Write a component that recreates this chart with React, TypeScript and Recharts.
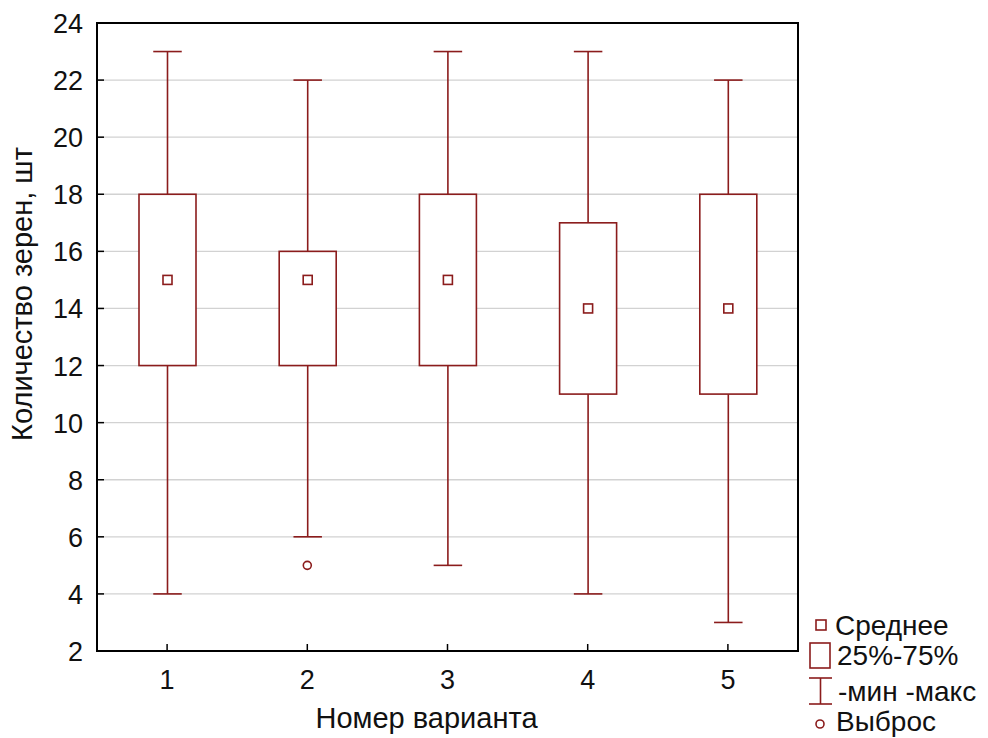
import React from "react";
import {
  ComposedChart,
  Bar,
  Scatter,
  XAxis,
  YAxis,
  CartesianGrid,
  ReferenceArea,
} from "recharts";

const variants = ["1", "2", "3", "4", "5"];
const minValues = [4, 6, 5, 4, 3];
const q1Values = [12, 12, 12, 11, 11];
const q3Values = [18, 16, 18, 17, 18];
const maxValues = [23, 22, 23, 23, 22];
const meanValues = [15, 15, 15, 14, 14];
const outliers: (number | null)[] = [null, 5, null, null, null];
const yTicks = [2, 4, 6, 8, 10, 12, 14, 16, 18, 20, 22, 24];

const RED = "#8b1c1c";
const FONT = "'Liberation Sans', Arial, sans-serif";

const data = variants.map((name, i) => ({
  name,
  range: [minValues[i], maxValues[i]],
  min: minValues[i],
  q1: q1Values[i],
  q3: q3Values[i],
  max: maxValues[i],
  mean: meanValues[i],
  outlier: outliers[i],
}));

// draws whisker + box + mean from the [min, max] bar the library positioned
function BoxShape(props: any) {
  const { x, y, width, height, payload } = props;
  const top = Math.min(y, y + height);
  const bottom = Math.max(y, y + height);
  const perUnit = (bottom - top) / (payload.max - payload.min);
  const toY = (v: number) => bottom - (v - payload.min) * perUnit;
  const cx = x + width / 2;
  const cap = width / 4;
  const yq1 = toY(payload.q1);
  const yq3 = toY(payload.q3);
  const ym = toY(payload.mean);
  return (
    <g stroke={RED} strokeWidth={1.6} fill="none">
      <line x1={cx} x2={cx} y1={toY(payload.max)} y2={yq3} />
      <line x1={cx} x2={cx} y1={yq1} y2={toY(payload.min)} />
      <line x1={cx - cap} x2={cx + cap} y1={toY(payload.max)} y2={toY(payload.max)} />
      <line x1={cx - cap} x2={cx + cap} y1={toY(payload.min)} y2={toY(payload.min)} />
      <rect x={x} y={yq3} width={width} height={yq1 - yq3} fill="#fff" />
      <rect x={cx - 4.5} y={ym - 4.5} width={9} height={9} />
    </g>
  );
}

function OutlierShape(props: any) {
  const { cx, cy } = props;
  if (!Number.isFinite(cx) || !Number.isFinite(cy)) return null;
  return <circle cx={cx} cy={cy} r={4} fill="none" stroke={RED} strokeWidth={1.6} />;
}

function XTick(props: any) {
  const { x, y, payload } = props;
  return (
    <g>
      <line x1={x} x2={x} y1={y} y2={y - 7} stroke="#000" strokeWidth={1.5} />
      <text x={x} y={y + 38} textAnchor="middle" fontSize={27} fontFamily={FONT} fill="#111">
        {payload.value}
      </text>
    </g>
  );
}

function YTick(props: any) {
  const { x, y, payload } = props;
  return (
    <g>
      <line x1={x} x2={x + 7} y1={y} y2={y} stroke="#000" strokeWidth={1.5} />
      <text x={x - 14} y={y + 10} textAnchor="end" fontSize={27} fontFamily={FONT} fill="#111">
        {payload.value}
      </text>
    </g>
  );
}

function YTitle(props: any) {
  const vb = props.viewBox;
  const cx = vb.x + 22;
  const cy = vb.y + vb.height / 2 - 43;
  return (
    <text
      x={cx}
      y={cy}
      transform={`rotate(-90 ${cx} ${cy})`}
      textAnchor="middle"
      dominantBaseline="central"
      fontSize={29}
      fontFamily={FONT}
      fill="#111"
    >
      Количество зерен, шт
    </text>
  );
}

function XTitle(props: any) {
  const vb = props.viewBox;
  return (
    <text
      x={vb.x + vb.width / 2 - 21}
      y={vb.y + 77}
      textAnchor="middle"
      fontSize={29}
      fontFamily={FONT}
      fill="#111"
    >
      Номер варианта
    </text>
  );
}

function LegendBox() {
  const t = { fontSize: 28, fontFamily: FONT, fill: "#111" };
  return (
    <svg
      width={183}
      height={133}
      style={{ position: "absolute", left: 805, top: 605, overflow: "visible" }}
    >
      <g stroke={RED} strokeWidth={1.6} fill="none">
        <rect x={11} y={15} width={10} height={10} />
        <rect x={5} y={38} width={20} height={25} />
        <line x1={15.5} x2={15.5} y1={73} y2={99} />
        <line x1={4} x2={27} y1={73} y2={73} />
        <line x1={4} x2={27} y1={99} y2={99} />
        <circle cx={15} cy={119} r={4} />
      </g>
      <text x={30} y={30} {...t}>Среднее</text>
      <text x={32} y={60} {...t}>25%-75%</text>
      <text x={33} y={96} {...t}>-мин -макс</text>
      <text x={31} y={126} {...t}>Выброс</text>
    </svg>
  );
}

export default function App() {
  return (
    <div style={{ position: "absolute", left: 0, top: 0, width: 988, height: 738, background: "#fff" }}>
      <ComposedChart
        width={988}
        height={738}
        data={data}
        margin={{ top: 23, right: 190, bottom: 0, left: 0 }}
      >
        <CartesianGrid horizontal vertical={false} stroke="#d2d2d2" strokeWidth={1.3} yAxisId="left" />
        <XAxis
          dataKey="name"
          height={87}
          axisLine={false}
          tickLine={false}
          tickSize={0}
          tickMargin={0}
          tick={<XTick />}
          interval={0}
          label={<XTitle />}
        />
        <XAxis
          xAxisId="top"
          dataKey="name"
          orientation="top"
          mirror
          axisLine={false}
          tick={false}
          tickLine={{ stroke: "#000", strokeWidth: 1.5 }}
          tickSize={7}
          interval={0}
        />
        <YAxis
          yAxisId="left"
          type="number"
          domain={[2, 24]}
          ticks={yTicks}
          width={97}
          axisLine={false}
          tickLine={false}
          tickSize={0}
          tickMargin={0}
          tick={<YTick />}
          interval={0}
          label={<YTitle />}
        />
        <YAxis
          yAxisId="right"
          orientation="right"
          type="number"
          domain={[2, 24]}
          ticks={yTicks}
          mirror
          axisLine={false}
          tick={false}
          tickLine={{ stroke: "#000", strokeWidth: 1.5 }}
          tickSize={7}
          interval={0}
        />
        <ReferenceArea
          yAxisId="left"
          y1={2}
          y2={24}
          fill="none"
          stroke="#000"
          strokeWidth={2}
        />
        <Bar
          yAxisId="left"
          dataKey="range"
          barSize={57}
          shape={<BoxShape />}
          isAnimationActive={false}
        />
        <Scatter
          yAxisId="left"
          dataKey="outlier"
          shape={<OutlierShape />}
          isAnimationActive={false}
        />
      </ComposedChart>
      <LegendBox />
    </div>
  );
}
